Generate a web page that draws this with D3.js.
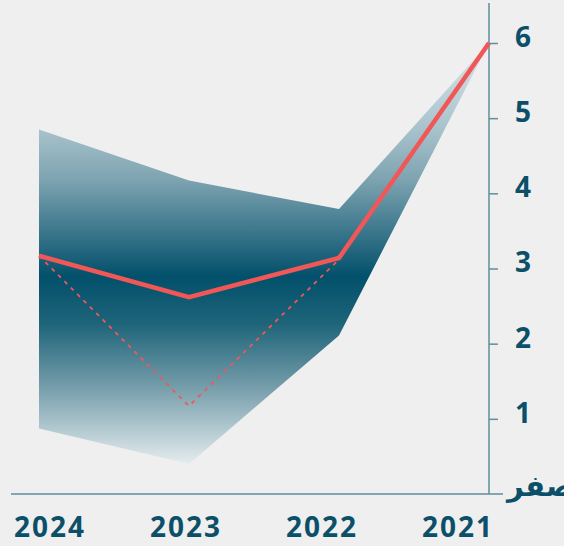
<!doctype html>
<html>
<head>
<meta charset="utf-8">
<title>chart</title>
<style>
* {padding:0;margin:0}
body {background:#efefef; overflow:hidden}
text {font-family:"Open Sans","Noto Sans","DejaVu Sans",sans-serif; font-weight:700; fill:#0b4f68}
</style>
</head>
<body>
<div id="chart"></div>
<script src="https://d3js.org/d3.v7.min.js"></script>
<script>
	// values
	const years = ["2024", "2023", "2022", "2021"];
	const mainLine = [3.17, 2.62, 3.14, 6];
	const dashedLine = [3.17, 1.17, 3.12];
	const bandHigh = [4.85, 4.17, 3.79, 6];
	const bandLow = [0.87, 0.40, 2.11, 6];
	const yTicks = [1, 2, 3, 4, 5, 6];
	const zeroLabel = "صفر";

	const width = 564, height = 546;

	const svg = d3.select("#chart").append("svg")
		.attr("width", width)
		.attr("height", height);

	svg.append("rect").attr("width", width).attr("height", height).attr("fill", "#efefef");

	const x = d3.scalePoint().domain(years).range([39, 489]);
	const xLabel = d3.scalePoint().domain(years).range([50, 458]);
	const y = d3.scaleLinear().domain([0, 6]).range([494, 43]);

	// gradient of the band
	const grad = svg.append("defs").append("linearGradient")
		.attr("id", "bandGrad")
		.attr("gradientUnits", "userSpaceOnUse")
		.attr("x1", 0).attr("x2", 0)
		.attr("y1", y(6)).attr("y2", y(0.35));
	[[0, "#dbe6ea"], [0.2, "#a9c3cc"], [0.32, "#7ea4b1"], [0.55, "#02506b"], [0.66, "#1e6479"], [0.8, "#6f99a7"], [1, "#eaf0f2"]]
		.forEach(function(s) {
			grad.append("stop").attr("offset", s[0]).attr("stop-color", s[1]);
		});

	const band = years.map(function(d, i) { return {year: d, hi: bandHigh[i], lo: bandLow[i]}; });
	const area = d3.area()
		.x(function(d) { return x(d.year); })
		.y0(function(d) { return y(d.lo); })
		.y1(function(d) { return y(d.hi); });

	svg.append("path")
		.datum(band)
		.attr("d", area)
		.attr("fill", "url(#bandGrad)");

	// axes
	const axisColor = "#5f8f9b";
	svg.append("line")
		.attr("x1", 11).attr("x2", 503)
		.attr("y1", y(0)).attr("y2", y(0))
		.attr("stroke", axisColor).attr("stroke-width", 1.5);

	const yAxis = svg.append("g")
		.attr("transform", "translate(" + x("2021") + ",0)")
		.call(d3.axisRight(y).tickValues(yTicks).tickSize(9).tickFormat(d3.format("d")));
	yAxis.select(".domain").remove();
	yAxis.attr("font-family", null).attr("font-size", null);
	yAxis.selectAll(".tick line").attr("stroke", axisColor).attr("stroke-width", 1.5);
	yAxis.selectAll(".tick text")
		.attr("font-size", 28).attr("fill", "#0b4f68")
		.attr("x", 34).attr("dy", "0.12em").attr("text-anchor", "middle");

	svg.append("line")
		.attr("x1", x("2021")).attr("x2", x("2021"))
		.attr("y1", 3).attr("y2", y(0))
		.attr("stroke", axisColor).attr("stroke-width", 1.5);

	svg.append("text")
		.attr("x", 574).attr("y", y(0) + 2)
		.attr("text-anchor", "end")
		.attr("font-size", 29)
		.text(zeroLabel);

	svg.selectAll("text.year")
		.data(years).enter()
		.append("text")
		.attr("class", "year")
		.attr("x", function(d) { return xLabel(d); })
		.attr("y", 537)
		.attr("text-anchor", "middle")
		.attr("font-size", 28)
		.attr("letter-spacing", 2)
		.text(function(d) { return d; });

	// lines
	const line = d3.line()
		.x(function(d) { return x(d.year); })
		.y(function(d) { return y(d.v); });

	svg.append("path")
		.datum(dashedLine.map(function(v, i) { return {year: years[i], v: v}; }))
		.attr("d", line)
		.attr("fill", "none")
		.attr("stroke", "#f25757")
		.attr("stroke-width", 1.8)
		.attr("stroke-dasharray", "4,5");

	svg.append("path")
		.datum(mainLine.map(function(v, i) { return {year: years[i], v: v}; }))
		.attr("d", line)
		.attr("fill", "none")
		.attr("stroke", "#f25757")
		.attr("stroke-width", 4.5);
</script>
</body>
</html>
